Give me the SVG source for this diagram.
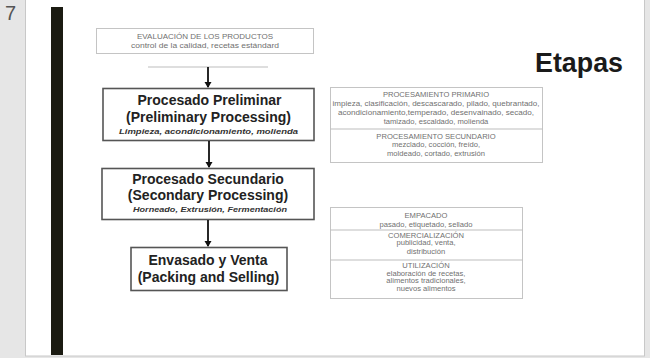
<svg xmlns="http://www.w3.org/2000/svg" width="650" height="358" viewBox="0 0 650 358">
  <style>
    .sans { font-family: "Liberation Sans", Arial, sans-serif; }
    .box { fill: #ffffff; stroke: #555555; stroke-width: 1.6; }
    .title { font-family: "Liberation Sans", Arial, sans-serif; font-weight: bold; font-size: 14px; fill: #222222; text-anchor: middle; }
    .sub { font-family: "Liberation Sans", Arial, sans-serif; font-weight: bold; font-style: italic; font-size: 8px; fill: #333333; text-anchor: middle; }
    .small { font-family: "Liberation Sans", Arial, sans-serif; font-size: 7.6px; fill: #707070; text-anchor: middle; }
    .rule { stroke: #bdbdbd; stroke-width: 1; fill: none; }
    .tbl { fill: #ffffff; stroke: #c4c4c4; stroke-width: 1; }
    .conn { stroke: #111111; stroke-width: 1.8; fill: none; marker-end: url(#arrow); }
  </style>
  <defs>
    <marker id="arrow" markerWidth="8" markerHeight="8" refX="5" refY="4" orient="auto" markerUnits="userSpaceOnUse">
      <path d="M0,0.5 L6,4 L0,7.5 Z" fill="#111111"/>
    </marker>
  </defs>

  <!-- page background and slide -->
  <rect x="0" y="0" width="650" height="358" fill="#e6e6e6"/>
  <rect x="25.5" y="-1" width="619" height="357" fill="#ffffff" stroke="#c8c8c8" stroke-width="1"/>
  <text x="5" y="20" class="sans" font-size="20" fill="#555555">7</text>
  <rect x="51" y="7" width="12" height="348" fill="#1b1b12"/>

  <!-- slide heading -->
  <text x="535" y="72" class="sans" font-size="28" font-weight="bold" fill="#1a1a1a" textLength="88" lengthAdjust="spacingAndGlyphs">Etapas</text>

  <!-- evaluation header -->
  <g id="evaluacion">
    <rect x="96.5" y="28.5" width="217" height="25" class="tbl"/>
    <text x="205" y="39" class="small" font-size="7" textLength="136" lengthAdjust="spacingAndGlyphs">EVALUACIÓN DE LOS PRODUCTOS</text>
    <text x="205" y="47.5" class="small" font-size="7" textLength="148" lengthAdjust="spacingAndGlyphs">control de la calidad, recetas estándard</text>
    <line x1="148" y1="67" x2="268" y2="67" class="rule"/>
  </g>

  <!-- main stages -->
  <g id="preliminar">
    <rect x="103" y="88.5" width="211" height="52" class="box"/>
    <text x="209.5" y="105" class="title">Procesado Preliminar</text>
    <text x="208.5" y="121.5" class="title">(Preliminary Processing)</text>
    <text x="208.5" y="134" class="sub" textLength="179" lengthAdjust="spacingAndGlyphs">Limpieza, acondicionamiento, molienda</text>
  </g>

  <g id="secundario">
    <rect x="102" y="168.5" width="212" height="51" class="box"/>
    <text x="208" y="184" class="title">Procesado Secundario</text>
    <text x="208" y="199.5" class="title">(Secondary Processing)</text>
    <text x="210" y="212" class="sub" textLength="154" lengthAdjust="spacingAndGlyphs">Horneado, Extrusión, Fermentación</text>
  </g>

  <g id="envasado">
    <rect x="131" y="247.5" width="156" height="43" class="box"/>
    <text x="208" y="265" class="title">Envasado y Venta</text>
    <text x="208.5" y="282" class="title">(Packing and Selling)</text>
  </g>

  <!-- processing detail table -->
  <g id="procesamiento">
    <rect x="330.5" y="87.5" width="212" height="75" class="tbl"/>
    <line x1="330.5" y1="129" x2="542.5" y2="129" class="rule"/>
    <text x="436" y="96.5" class="small">PROCESAMIENTO PRIMARIO</text>
    <text x="436" y="106" class="small" textLength="207" lengthAdjust="spacingAndGlyphs">impieza, clasificación, descascarado, pilado, quebrantado,</text>
    <text x="436" y="115" class="small" textLength="196" lengthAdjust="spacingAndGlyphs">acondicionamiento,temperado, desenvainado, secado,</text>
    <text x="436" y="124" class="small">tamizado, escaldado, molienda</text>
    <text x="436" y="138.5" class="small">PROCESAMIENTO SECUNDARIO</text>
    <text x="436" y="147" class="small">mezclado, cocción, freído,</text>
    <text x="436" y="155.5" class="small">moldeado, cortado, extrusión</text>
  </g>

  <!-- packing, marketing and use table -->
  <g id="comercializacion">
    <rect x="330.5" y="207.5" width="192" height="91" class="tbl"/>
    <line x1="330.5" y1="230" x2="522.5" y2="230" class="rule"/>
    <line x1="330.5" y1="260" x2="522.5" y2="260" class="rule"/>
    <text x="426" y="217.5" class="small" font-size="7.2">EMPACADO</text>
    <text x="426" y="226.5" class="small" font-size="7.2">pasado, etiquetado, sellado</text>
    <text x="426" y="237.5" class="small" font-size="7.2">COMERCIALIZACIÓN</text>
    <text x="426" y="245" class="small" font-size="7.2">publicidad, venta,</text>
    <text x="426" y="254" class="small" font-size="7.2">distribución</text>
    <text x="426" y="268" class="small" font-size="7.2">UTILIZACIÓN</text>
    <text x="426" y="275.5" class="small" font-size="7.2">elaboración de recetas,</text>
    <text x="426" y="283" class="small" font-size="7.2">alimentos tradicionales,</text>
    <text x="426" y="291" class="small" font-size="7.2">nuevos alimentos</text>
  </g>

  <!-- connectors -->
  <g id="connectors">
    <line x1="208" y1="67" x2="208" y2="87" class="conn"/>
    <line x1="209" y1="141" x2="209" y2="167" class="conn"/>
    <line x1="208" y1="220" x2="208" y2="246" class="conn"/>
  </g>
</svg>
